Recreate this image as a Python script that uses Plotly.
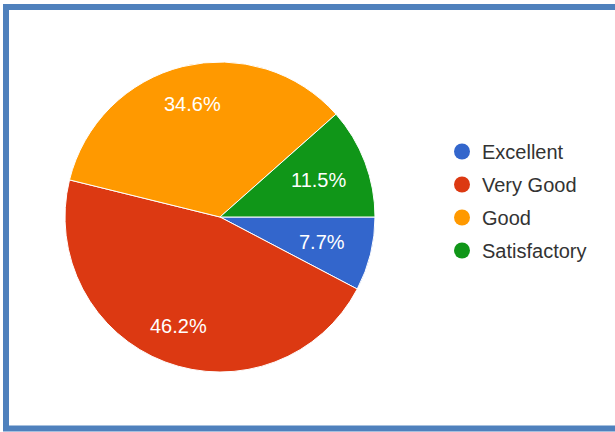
import math
import plotly.graph_objects as go

categories = ["Excellent", "Very Good", "Good", "Satisfactory"]
counts = [2, 12, 9, 3]
colors = ["#3366CC", "#DC3912", "#FF9900", "#109618"]

W, H = 615, 432
px0, px1, py0, py1 = 65, 375, 62, 372   # pie box in pixels
fig = go.Figure()

fig.add_trace(go.Pie(
    labels=categories, values=counts, sort=False,
    direction="clockwise", rotation=90,
    marker=dict(colors=colors, line=dict(color="white", width=1)),
    textinfo="none",
    showlegend=False, hoverinfo="label+percent",
    domain=dict(x=[px0/W, px1/W], y=[1-py1/H, 1-py0/H]),
))

# percentage labels placed along each slice's bisector
cx, cy = (px0+px1)/2, (py0+py1)/2
R = (px1-px0)/2
total = sum(counts)
cum = 0
annotations = []
for v in counts:
    share = v/total
    mid = (cum + v/2) / total
    cum += v
    ang = 2*math.pi*mid  # clockwise from 3 o'clock (screen coords)
    r = (0.68 if share < 0.15 else 0.75)*R
    x = cx + r*math.cos(ang)
    y = cy + r*math.sin(ang)
    annotations.append(dict(
        x=x/W, y=1-y/H, xref="paper", yref="paper", showarrow=False,
        text=f"{100*share:.1f}%",
        font=dict(family="Liberation Sans, Arial", size=20, color="white"),
        xanchor="center", yanchor="middle",
    ))

for i, (c, col) in enumerate(zip(categories, colors)):
    fig.add_trace(go.Scatter(
        x=[None], y=[None], mode="markers", name=c,
        marker=dict(symbol="circle", size=16, color=col),
        legendgroup=str(i), showlegend=True,
    ))

fig.update_layout(
    width=W, height=H,
    margin=dict(l=0, r=0, t=0, b=0),
    paper_bgcolor="white", plot_bgcolor="white",
    xaxis=dict(visible=False), yaxis=dict(visible=False),
    annotations=annotations,
    legend=dict(
        x=442/W, y=1-132/H, xanchor="left", yanchor="top",
        font=dict(family="Liberation Sans, Arial", size=20, color="#333333"),
        tracegroupgap=4, itemwidth=30, bgcolor="rgba(0,0,0,0)",
    ),
    shapes=[
        dict(type="line", xref="paper", yref="paper", x0=6/W, x1=1.02, y0=1-7/H, y1=1-7/H,
             line=dict(color="#4F81BD", width=6)),
        dict(type="line", xref="paper", yref="paper", x0=6/W, x1=6/W, y0=1-4/H, y1=1-431/H,
             line=dict(color="#4F81BD", width=6)),
        dict(type="line", xref="paper", yref="paper", x0=3/W, x1=1.02, y0=1-428.5/H, y1=1-428.5/H,
             line=dict(color="#4F81BD", width=6)),
    ],
)

fig.write_html("out.html", config={"displayModeBar": False},
               post_script="document.body.style.margin='0';document.body.style.overflow='hidden';")
